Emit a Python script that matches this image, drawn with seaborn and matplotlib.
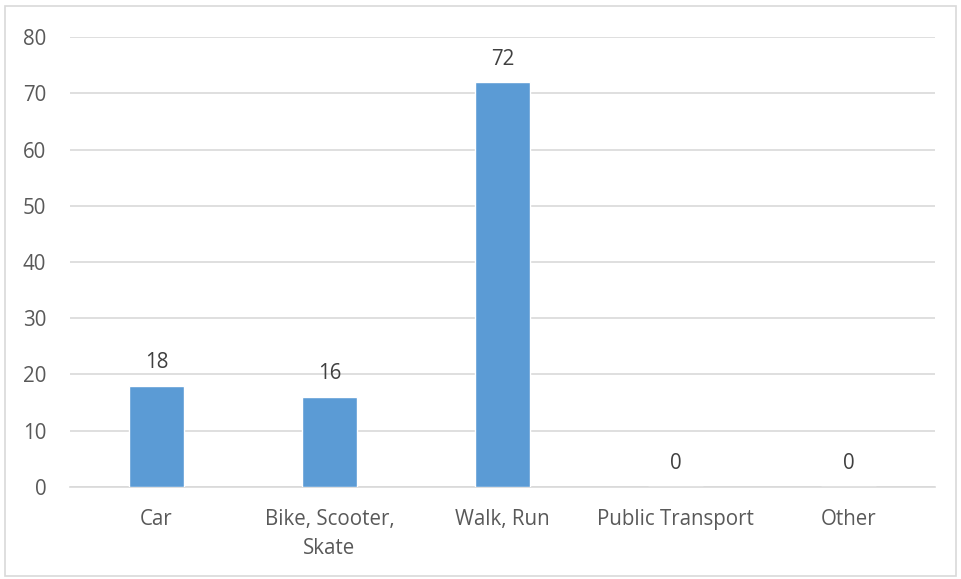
import matplotlib
matplotlib.use("Agg")
import matplotlib.pyplot as plt
import seaborn as sns
import pandas as pd
from matplotlib.patches import Rectangle

categories = ["Car", "Bike, Scooter,\nSkate", "Walk, Run", "Public Transport", "Other"]
counts = [18, 16, 72, 0, 0]
y_ticks = [0, 10, 20, 30, 40, 50, 60, 70, 80]

sns.set_style("white")
plt.rcParams["font.family"] = ["Open Sans", "DejaVu Sans"]

df = pd.DataFrame({"mode": categories, "count": counts})

fig = plt.figure(figsize=(9.61, 5.79), dpi=100)
ax = fig.add_axes([0.0728, 0.159, 0.9002, 0.777])

sns.barplot(data=df, x="mode", y="count", color="#5B9BD5", width=0.32,
            saturation=1, ax=ax, zorder=3)

ax.set_ylim(0, 80)
ax.set_yticks(y_ticks)
ax.set_xlim(-0.5, len(categories) - 0.5)
ax.grid(axis="y", color="#D9D9D9", linewidth=1.2, zorder=0)
ax.set_axisbelow(True)
for s in ["top", "right", "left"]:
    ax.spines[s].set_visible(False)
ax.spines["bottom"].set_color("#D9D9D9")
ax.spines["bottom"].set_linewidth(1.2)
ax.tick_params(axis="both", length=0, labelsize=14.8, colors="#595959")
ax.tick_params(axis="x", pad=16)
ax.tick_params(axis="y", pad=17)
for lbl in ax.get_xticklabels():
    lbl.set_linespacing(1.5)
ax.set_xlabel("")
ax.set_ylabel("")

for c in ax.containers:
    ax.bar_label(c, labels=[str(v) for v in counts], padding=9,
                 fontsize=14.8, color="#404040")

fig.patches.append(Rectangle((0.005, 0.005), 0.99, 0.985, transform=fig.transFigure,
                             fill=False, edgecolor="#D9D9D9", linewidth=1.2))

fig.savefig("out.png", dpi=100)
